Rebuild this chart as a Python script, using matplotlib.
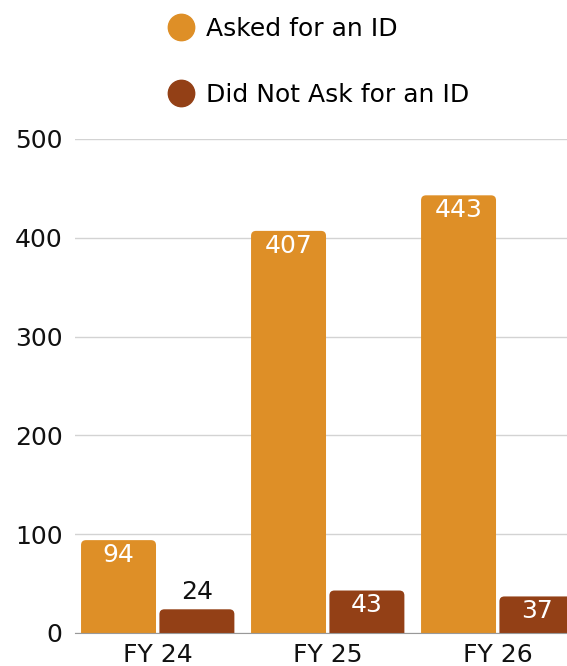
import matplotlib.pyplot as plt
import numpy as np
from matplotlib.patches import FancyBboxPatch
from matplotlib.lines import Line2D

plt.rcParams['font.family'] = ['DejaVu Sans']

# --- data ---
YEARS = ["FY 24", "FY 25", "FY 26"]
ASKED = [94, 407, 443]
NOT_ASKED = [24, 43, 37]
SERIES = ["Asked for an ID", "Did Not Ask for an ID"]
COLORS = ["#DE8F27", "#934016"]

W, H = 567, 666
fig = plt.figure(figsize=(W / 100, H / 100), dpi=100)
ax = fig.add_axes([75 / W, 1 - 633 / H, 1 - 75 / W, (633 - 139) / H])
ax.set_xlim(-0.488, 2.406)
ax.set_ylim(0, 500)

bar_w = 0.441
offsets = [-0.232, 0.229]
x = np.arange(len(YEARS))

# radius of rounded tops, same in px both ways
px_x = ax.transData.transform((1, 0))[0] - ax.transData.transform((0, 0))[0]
px_y = ax.transData.transform((0, 1))[1] - ax.transData.transform((0, 0))[1]
r = 5 / px_x
aspect = (5 / px_y) / r

for vals, off, col in zip([ASKED, NOT_ASKED], offsets, COLORS):
    for xi, v in zip(x, vals):
        left = xi + off - bar_w / 2
        p = FancyBboxPatch((left, -20), bar_w, v + 20,
                           boxstyle=f"round,pad=0,rounding_size={r}",
                           mutation_aspect=aspect, fc=col, ec="none", zorder=3)
        ax.add_patch(p)
        if v > 30:
            ax.text(xi + off, v - 15, str(v), ha="center", va="center",
                    color="white", fontsize=18, zorder=4)
        else:
            ax.text(xi + off, v + 17, str(v), ha="center", va="center",
                    color="#111111", fontsize=18, zorder=4)

ax.set_yticks([0, 100, 200, 300, 400, 500])
ax.set_xticks(x)
ax.set_xticklabels(YEARS)
ax.tick_params(axis="both", length=0, labelsize=18, colors="#111111")
ax.tick_params(axis="y", pad=9)
ax.tick_params(axis="x", pad=7)
ax.grid(axis="y", color="#d3d3d3", linewidth=1, zorder=0)
ax.set_axisbelow(True)
for s in ["top", "right", "left"]:
    ax.spines[s].set_visible(False)
ax.spines["bottom"].set_color("#999999")
ax.spines["bottom"].set_zorder(5)

handles = [Line2D([], [], marker="o", ls="none", color=c, markersize=19) for c in COLORS]
fig.legend(handles, SERIES, loc="upper left", bbox_to_anchor=(158 / W, 1 - 7 / H),
           frameon=False, fontsize=18, handlelength=1.0, handletextpad=0.5,
           labelspacing=1.67, borderaxespad=0)

fig.savefig("out.png", dpi=100)
